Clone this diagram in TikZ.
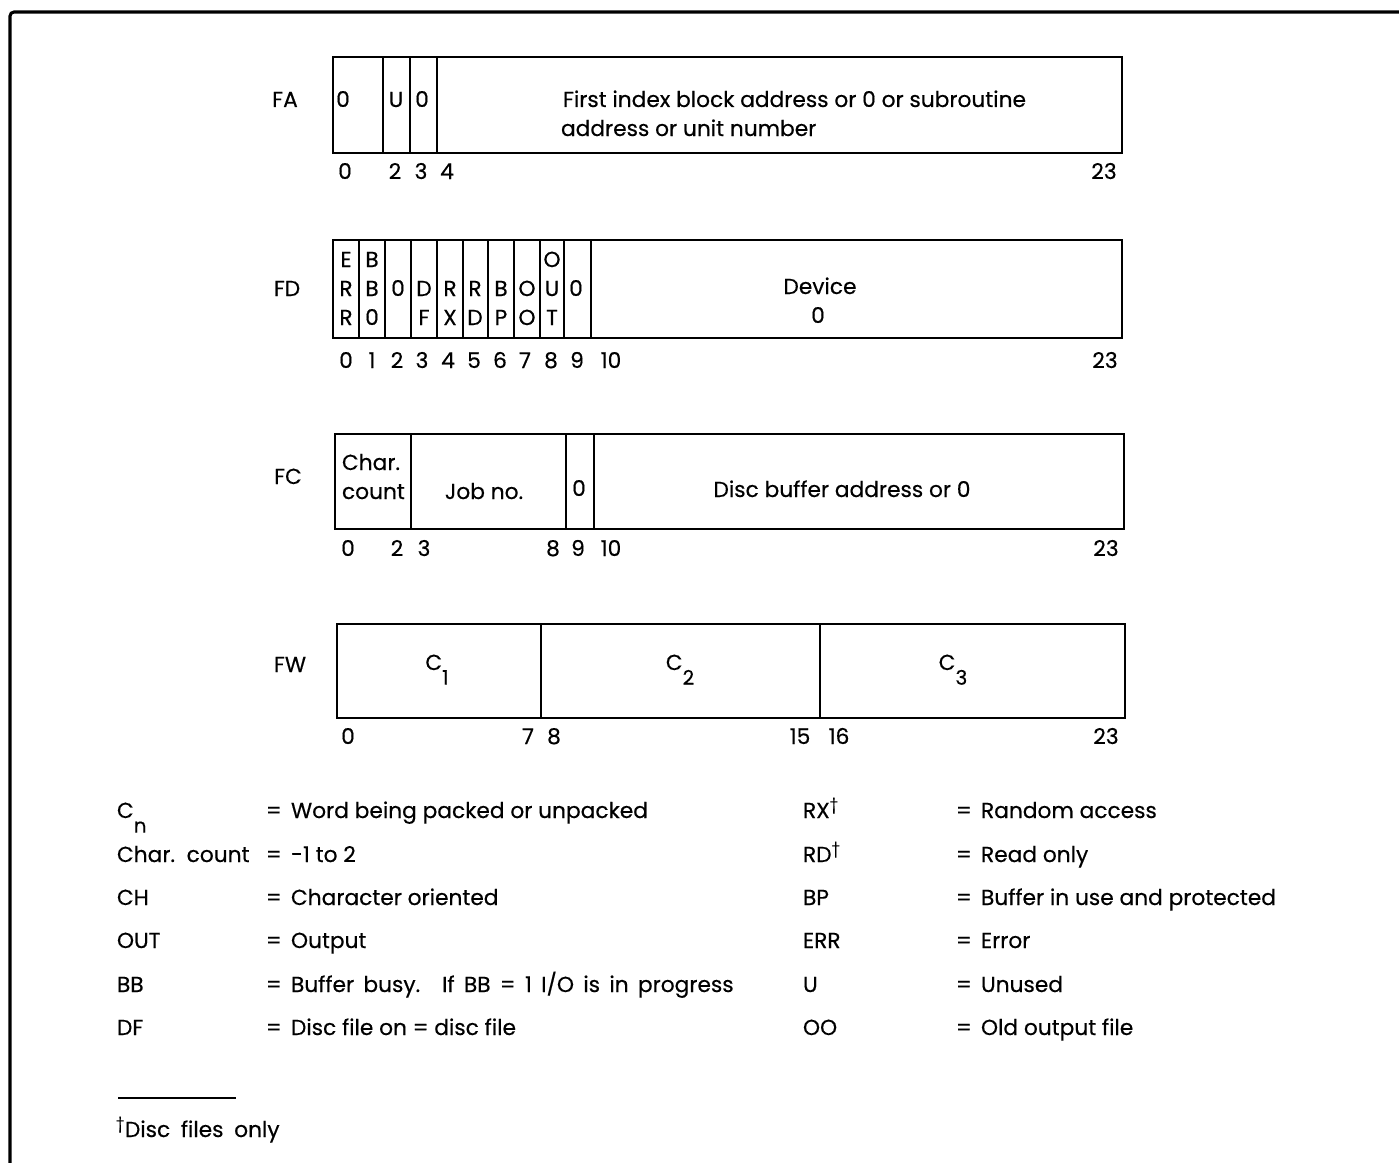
\documentclass[tikz,border=0pt]{standalone}
\usepackage{fontspec}
\setmainfont{Poppins}
\newcommand{\dg}{\textsuperscript{\char"2020}}
\newcommand{\lowsub}[1]{\raisebox{-11pt}{\fontsize{15}{16}\selectfont #1}}
\begin{document}
\begin{tikzpicture}[x=0.75pt,y=-0.75pt,
  every node/.style={inner sep=0pt, outer sep=0pt, font=\fontsize{16.3}{18}\selectfont\addfontfeatures{FakeBold=0.4}},
  tb/.style={anchor=base},
  tw/.style={anchor=base west},
  wordbox/.style={draw, line width=2.2pt},
  div/.style={line width=1.1pt},
  frame/.style={line width=2.3pt}]
\useasboundingbox (0,0) rectangle (1399,1163);
\draw[frame, rounded corners=3pt] (10,1163) -- (10,12) -- (1399,12);

% ---------- FA ----------
\node[tb] (FAlab) at (285,107) {FA};
\draw[wordbox] (333,57) rectangle (1122,153);
\foreach \x in {383,410,437} \draw[div] (\x,57) -- (\x,153);
\node[tb] (FA0) at (343,107) {0};
\node[tb] (FAU) at (396,107) {U};
\node[tb] (FA3) at (422,107) {0};
\node[tw] (FAt1) at (563,107) {First index block address or 0 or subroutine};
\node[tw] (FAt2) at (561,136) {address or unit number};
\foreach \x/\t in {345/0,395/2,421/3,447/4,1104/23}
  \node[tb] (FAb\t) at (\x,179) {\t};

% ---------- FD ----------
\node[tb] (FDlab) at (287,296) {FD};
\draw[wordbox] (333,240) rectangle (1122,338);
\foreach \x in {359,385,411,437,463,488,514,540,564,591} \draw[div] (\x,240) -- (\x,338);
\foreach \x/\r/\c [count=\i] in {346/267/E,346/296/R,346/325/R,
    372/267/B,372/296/B,372/325/0,
    398/296/0,
    424/296/D,424/325/F,
    450/296/R,450/325/X,
    475/296/R,475/325/D,
    501/296/B,501/325/P,
    527/296/O,527/325/O,
    552/267/O,552/296/U,552/325/T,
    576/296/0}
  \node[tb] (FDc\i) at (\x,\r) {\c};
\node[tb] (FDdev) at (820,294) {Device};
\node[tb] (FDdev0) at (818,323) {0};
\foreach \x/\t in {346/0,372/1,397/2,422/3,448/4,474/5,500/6,525/7,551/8,577/9,611/10,1105/23}
  \node[tb] (FDb\t) at (\x,368) {\t};

% ---------- FC ----------
\node[tb] (FClab) at (288,484) {FC};
\draw[wordbox] (335,434) rectangle (1124,529);
\foreach \x in {411,566,594} \draw[div] (\x,434) -- (\x,529);
\node[tw] (FCch) at (342,470) {Char.};
\node[tw] (FCco) at (342,499) {count};
\node[tb] (FCjob) at (484,499) {Job no.};
\node[tb] (FC0) at (579,496) {0};
\node[tb] (FCdisc) at (842,497) {Disc buffer address or 0};
\foreach \x/\t in {348/0,397/2,424/3,553/8,578/9,611/10,1106/23}
  \node[tb] (FCb\t) at (\x,556) {\t};

% ---------- FW ----------
\node[tb] (FWlab) at (290,672) {FW};
\draw[wordbox] (337,624) rectangle (1125,718);
\foreach \x in {541,820} \draw[div] (\x,624) -- (\x,718);
\foreach \x/\n in {437/1,680/2,953/3}
  \node[tb] (FWc\n) at (\x,670) {C\lowsub{\n}};
\foreach \x/\t in {348/0,528/7,554/8,800/15,839/16,1106/23}
  \node[tb] (FWb\t) at (\x,744) {\t};

% ---------- Legend ----------
\foreach \y/\s/\d [count=\i] in {
    818/{C\lowsub{n}}/{Word being packed or unpacked},
    862/{Char.\ \ count}/{-1 to 2},
    905/{CH}/{Character oriented},
    948/{OUT}/{Output},
    992/{BB}/{\spaceskip=7pt\relax Buffer busy.\hspace{8pt} If BB = 1 I/O is in progress},
    1035/{DF}/{Disc file on = disc file}} {
  \node[tw] (Ls\i) at (117,\y) {\s};
  \node[tw] (Le\i) at (266,\y) {=};
  \node[tw] (Ld\i) at (291,\y) {\d};
}
\foreach \y/\s/\d [count=\i] in {
    818/{RX\dg}/{Random access},
    862/{RD\dg}/{Read only},
    905/{BP}/{Buffer in use and protected},
    948/{ERR}/{Error},
    992/{U}/{Unused},
    1035/{OO}/{Old output file}} {
  \node[tw] (Rs\i) at (803,\y) {\s};
  \node[tw] (Re\i) at (956,\y) {=};
  \node[tw] (Rd\i) at (981,\y) {\d};
}

% ---------- Footnote ----------
\draw[line width=1.3pt] (118,1098) -- (236,1098);
\node[tw] (foot) at (116,1137) {\spaceskip=8pt\relax\dg Disc files only};
\end{tikzpicture}
\end{document}
